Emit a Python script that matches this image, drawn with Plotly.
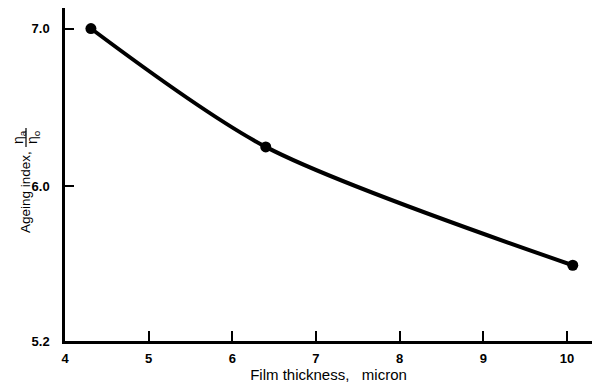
import plotly.graph_objects as go

# Data
film_thickness = [4.31, 6.40, 10.07]      # micron
ageing_index = [7.0, 6.25, 5.5]

x_tick_vals = [4, 5, 6, 7, 8, 9, 10]
x_tick_text = ["4", "5", "6", "7", "8", "9", "10"]
y_tick_vals = [5.02, 6.0, 7.0]
y_tick_text = ["5.2", "6.0", "7.0"]

FONT = "Liberation Sans, Arial, sans-serif"

# page has an 8px body margin; figure coordinates compensate for it
OFF = 8
W, H = 601 - OFF, 389 - OFF
L, R, T, B = 65 - OFF, 9, 8 - OFF, 48
pw, ph = W - L - R, H - T - B

def px_to_paper_x(px):
    return (px - OFF - L) / pw

def px_to_paper_y(py):
    return (H - B - (py - OFF)) / ph

fig = go.Figure()
fig.add_trace(go.Scatter(
    x=film_thickness, y=ageing_index,
    mode="lines+markers",
    line=dict(color="black", width=4, shape="spline", smoothing=0.8),
    marker=dict(color="black", size=11),
    showlegend=False,
    cliponaxis=False,
))

fig.update_layout(
    width=W, height=H,
    margin=dict(l=L, r=R, t=T, b=B, pad=0),
    paper_bgcolor="white", plot_bgcolor="white",
    font=dict(family=FONT, size=12, color="black"),
    xaxis=dict(
        range=[4, 10.3], tickvals=x_tick_vals, ticktext=x_tick_text,
        showline=True, linecolor="black", linewidth=2.5,
        ticks="inside", ticklen=10, tickwidth=1.5, tickcolor="black",
        showgrid=False, zeroline=False,
        tickfont=dict(family=FONT, size=13, color="black", weight="bold"),
        ticklabelstandoff=4,
        title=dict(text="Film thickness,   micron", standoff=5,
                   font=dict(family=FONT, size=15, color="black")),
    ),
    yaxis=dict(
        range=[5.02, 7.13], tickvals=y_tick_vals, ticktext=y_tick_text,
        showline=True, linecolor="black", linewidth=2.5,
        ticks="inside", ticklen=9, tickwidth=1.5, tickcolor="black",
        showgrid=False, zeroline=False,
        tickfont=dict(family=FONT, size=13, color="black", weight="bold"),
        ticklabelstandoff=10,
    ),
)

# y-axis title with stacked fraction
fig.add_annotation(
    xref="paper", yref="paper", x=px_to_paper_x(25), y=px_to_paper_y(192),
    text="Ageing index,", textangle=-90, showarrow=False,
    xanchor="center", yanchor="middle",
    font=dict(family=FONT, size=13.5, color="black"),
)
fig.add_annotation(
    xref="paper", yref="paper", x=px_to_paper_x(19), y=px_to_paper_y(137),
    text="η<sub>a</sub>", textangle=-90, showarrow=False,
    xanchor="center", yanchor="middle",
    font=dict(family=FONT, size=14, color="black"),
)
fig.add_annotation(
    xref="paper", yref="paper", x=px_to_paper_x(33), y=px_to_paper_y(137),
    text="η<sub>o</sub>", textangle=-90, showarrow=False,
    xanchor="center", yanchor="middle",
    font=dict(family=FONT, size=14, color="black"),
)
fig.add_shape(
    type="line", xref="paper", yref="paper",
    x0=px_to_paper_x(26), x1=px_to_paper_x(26),
    y0=px_to_paper_y(128), y1=px_to_paper_y(147),
    line=dict(color="black", width=1.2),
)

fig.write_html("out.html")
